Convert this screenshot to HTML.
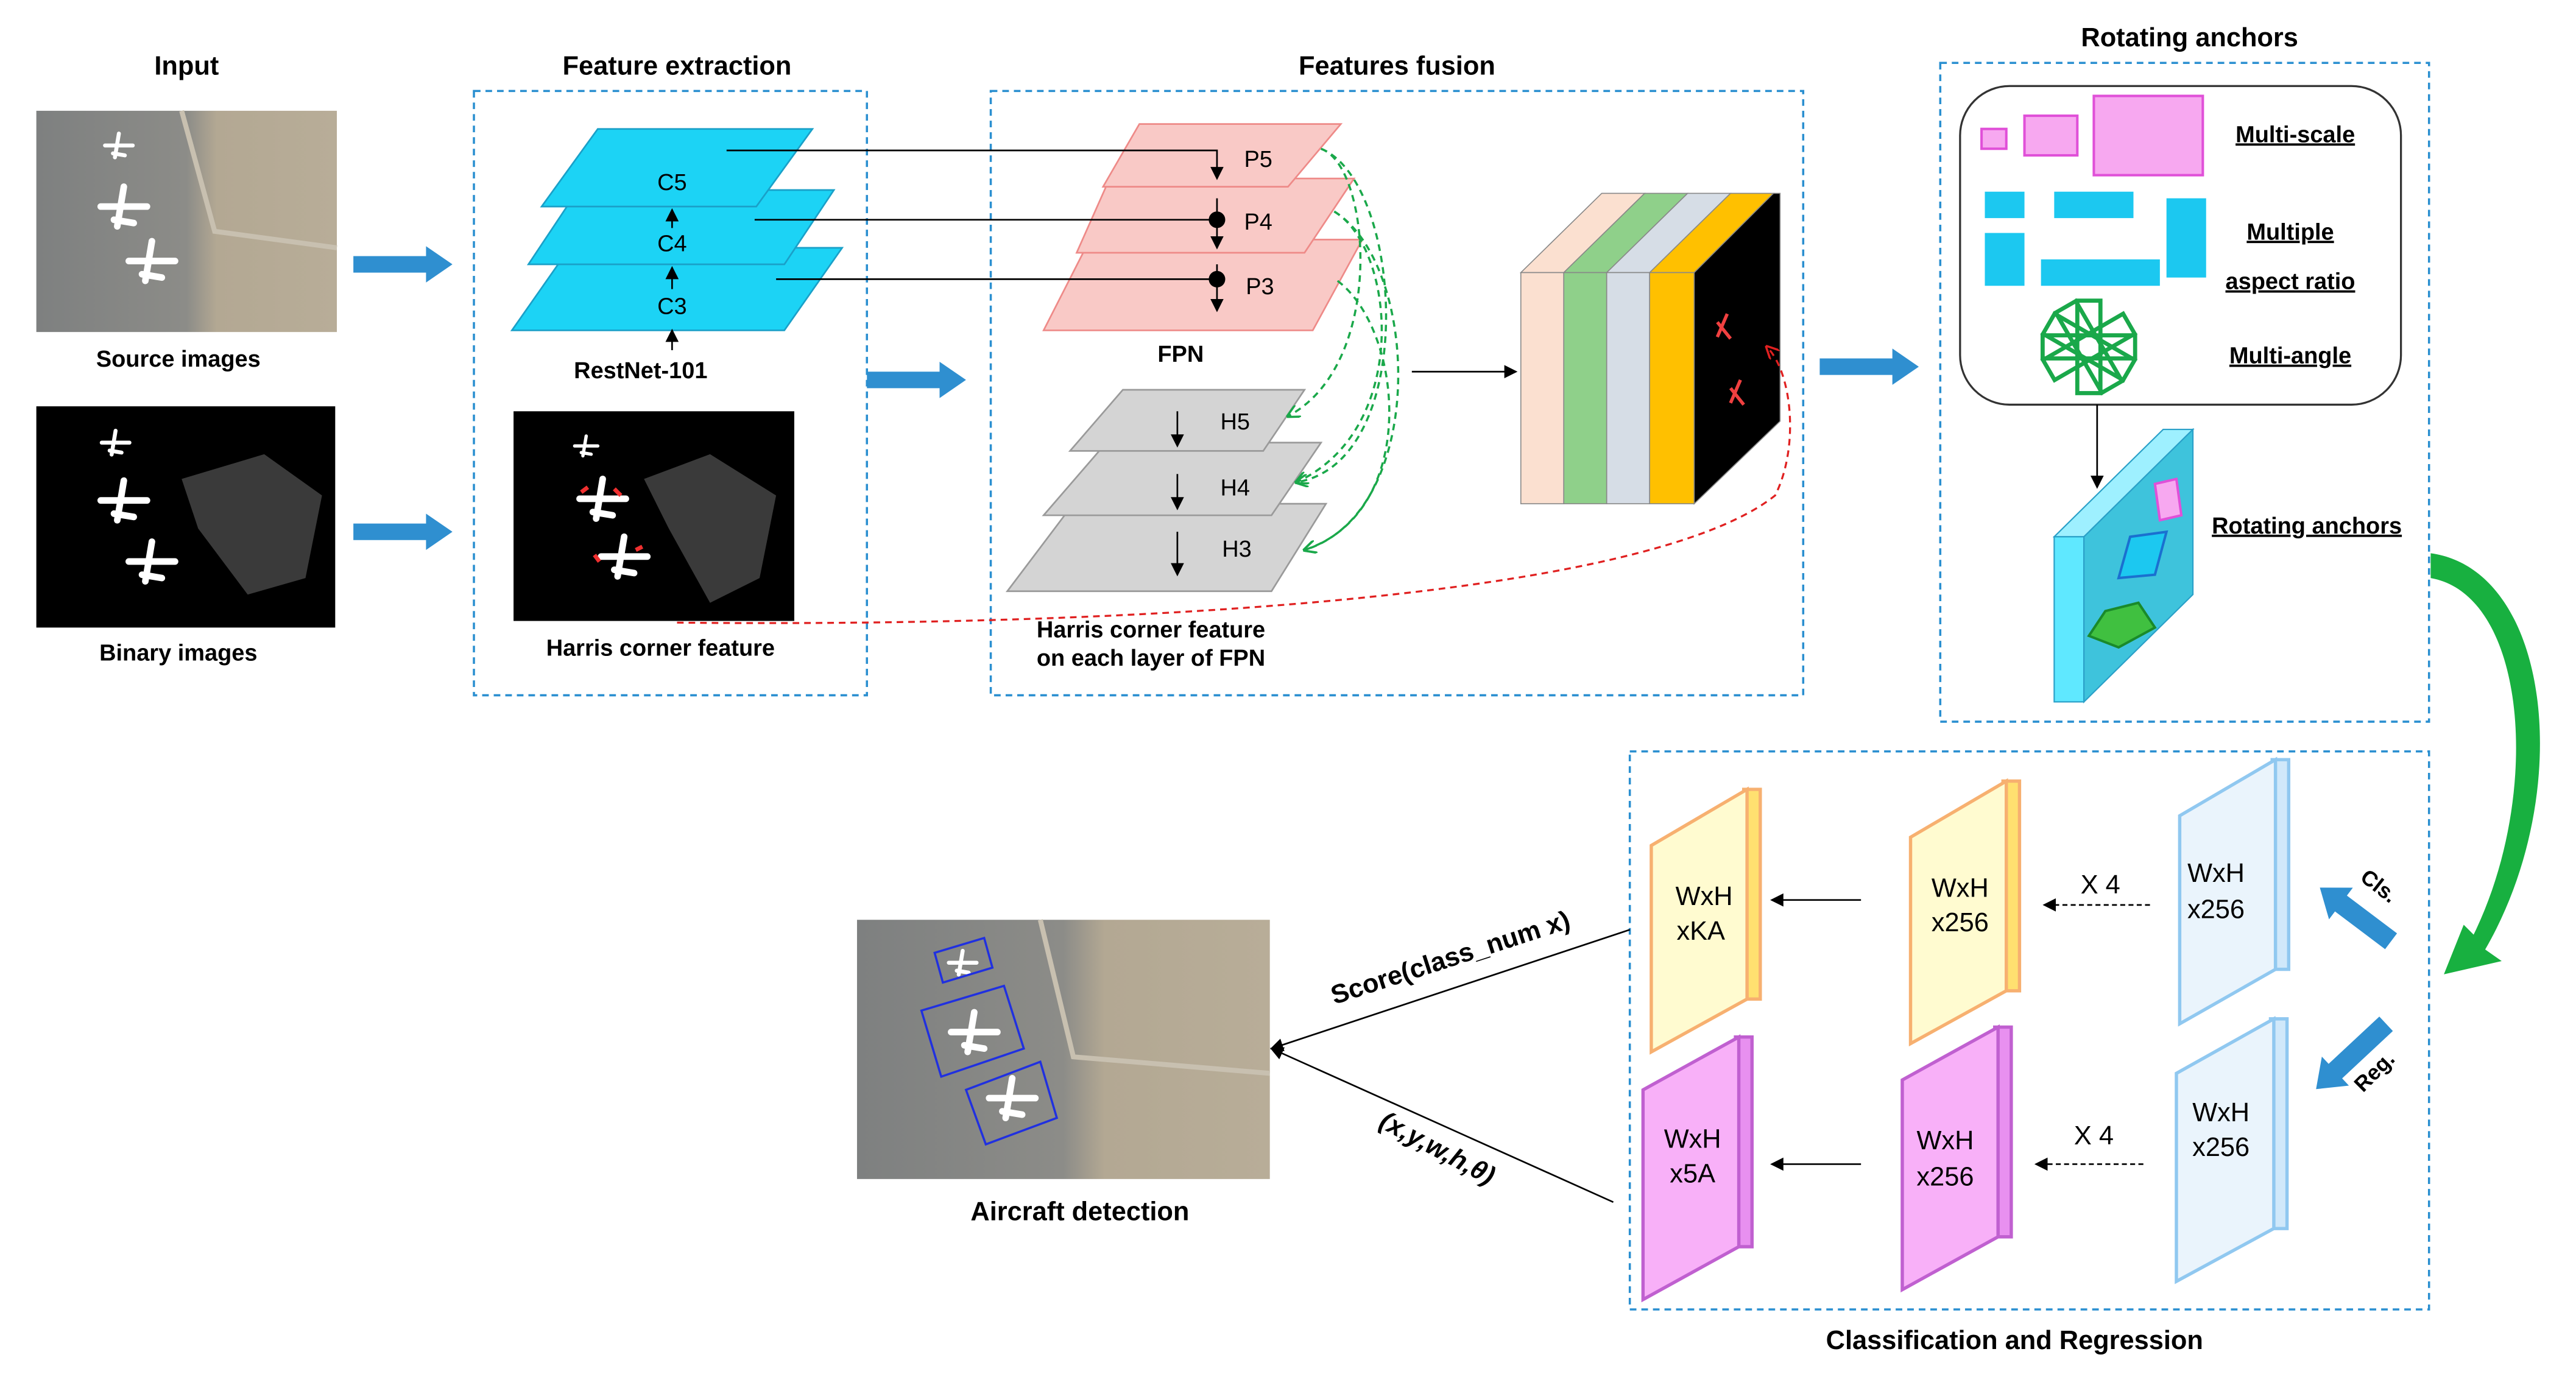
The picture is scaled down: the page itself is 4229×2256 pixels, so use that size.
<!DOCTYPE html>
<html><head><meta charset="utf-8"><style>html,body{margin:0;padding:0;background:#fff}svg{display:block}</style></head>
<body>
<svg width="4229" height="2256" viewBox="0 0 1560 832" xmlns="http://www.w3.org/2000/svg" font-family="Liberation Sans, Arial, sans-serif">
<defs>
<marker id="ah" markerWidth="8" markerHeight="8" refX="7" refY="4" orient="auto" markerUnits="userSpaceOnUse"><path d="M0,0 L8,4 L0,8 z" fill="#000"/></marker>
<marker id="ahg" markerWidth="8" markerHeight="8" refX="7" refY="4" orient="auto" markerUnits="userSpaceOnUse"><path d="M0,0 L8,4 L0,8" fill="none" stroke="#1aa84a" stroke-width="1.3"/></marker>
<marker id="ahr" markerWidth="8" markerHeight="8" refX="7" refY="4" orient="auto" markerUnits="userSpaceOnUse"><path d="M0,0 L8,4 L0,8" fill="none" stroke="#e02020" stroke-width="1.3"/></marker>
<linearGradient id="sat" x1="0" y1="0" x2="1" y2="0"><stop offset="0" stop-color="#7e8080"/><stop offset="0.5" stop-color="#8c8c88"/><stop offset="0.6" stop-color="#b3a893"/><stop offset="1" stop-color="#b8ad98"/></linearGradient>
<g id="plane"><path d="M-14,0 L14,0 M0,-12 L-4,12 M-6,8 L6,10" stroke="#fff" stroke-width="4" stroke-linecap="round"/></g>
<g id="blueArrow"><path d="M0,-5 L44,-5 L44,-11 L60,0 L44,11 L44,5 L0,5 z" fill="#2f8fd0"/></g>
</defs>

<g font-weight="bold" font-size="16" text-anchor="middle" fill="#000">
<text x="113" y="45">Input</text>
<text x="410" y="45">Feature extraction</text>
<text x="846" y="45">Features fusion</text>
<text x="1326" y="28">Rotating anchors</text>
<text x="1220" y="817">Classification and Regression</text>
</g>

<!-- Input images -->
<rect x="22" y="67" width="182" height="134" fill="url(#sat)"/>
<path d="M110,67 L130,140 L204,150" stroke="#c8c0b0" stroke-width="3" fill="none"/>
<use href="#plane" transform="translate(72,88) scale(0.6)"/>
<use href="#plane" transform="translate(75,125)"/>
<use href="#plane" transform="translate(92,158)"/>
<text x="108" y="222" font-size="14" font-weight="bold" text-anchor="middle">Source images</text>
<rect x="22" y="246" width="181" height="134" fill="#000"/>
<path d="M110,290 L160,275 L195,300 L185,350 L150,360 L120,320 z" fill="#3a3a3a"/>
<use href="#plane" transform="translate(70,268) scale(0.6)"/>
<use href="#plane" transform="translate(75,303)"/>
<use href="#plane" transform="translate(92,340)"/>
<text x="108" y="400" font-size="14" font-weight="bold" text-anchor="middle">Binary images</text>

<use href="#blueArrow" transform="translate(214,160)"/>
<use href="#blueArrow" transform="translate(214,322)"/>
<use href="#blueArrow" transform="translate(525,230)"/>
<use href="#blueArrow" transform="translate(1102,222)"/>

<!-- Feature extraction -->
<rect x="287" y="55" width="238" height="366" fill="none" stroke="#2a8fd0" stroke-width="1.3" stroke-dasharray="4,3"/>
<g fill="#1cd3f5" stroke="#1aa0c8" stroke-width="1">
<polygon points="345,150 510,150 475,200 310,200"/>
<polygon points="350,115 505,115 475,160 320,160"/>
<polygon points="362,78 492,78 458,125 328,125"/>
</g>
<g font-size="14" text-anchor="middle"><text x="407" y="115">C5</text><text x="407" y="152">C4</text><text x="407" y="190">C3</text></g>
<g stroke="#000" stroke-width="1" marker-end="url(#ah)">
<line x1="407" y1="138" x2="407" y2="127"/><line x1="407" y1="175" x2="407" y2="162"/><line x1="407" y1="212" x2="407" y2="200"/>
</g>
<text x="388" y="229" font-size="14" font-weight="bold" text-anchor="middle">RestNet-101</text>
<rect x="311" y="249" width="170" height="127" fill="#000"/>
<path d="M390,290 L430,275 L470,300 L460,350 L430,365 L405,320 z" fill="#3a3a3a"/>
<use href="#plane" transform="translate(355,270) scale(0.5)"/>
<use href="#plane" transform="translate(365,302)"/>
<use href="#plane" transform="translate(378,337)"/>
<path d="M352,298 l4,-3 M372,296 l4,4 M360,336 l3,4 M385,333 l4,-2" stroke="#f03030" stroke-width="2.5"/>
<text x="400" y="397" font-size="14" font-weight="bold" text-anchor="middle">Harris corner feature</text>

<!-- Features fusion -->
<rect x="600" y="55" width="492" height="366" fill="none" stroke="#2a8fd0" stroke-width="1.3" stroke-dasharray="4,3"/>
<g fill="#f9c9c6" stroke="#ee8a88" stroke-width="1">
<polygon points="660,145 825,145 795,200 632,200"/>
<polygon points="672,108 820,108 790,153 652,153"/>
<polygon points="690,75 812,75 780,113 668,113"/>
</g>
<g font-size="14" text-anchor="middle"><text x="762" y="101">P5</text><text x="762" y="139">P4</text><text x="763" y="178">P3</text></g>
<g stroke="#000" stroke-width="1">
<polyline points="440,91 737,91 737,108" fill="none" marker-end="url(#ah)"/>
<line x1="457" y1="133" x2="737" y2="133"/>
<line x1="470" y1="169" x2="737" y2="169"/>
<line x1="737" y1="120" x2="737" y2="150" marker-end="url(#ah)"/>
<line x1="737" y1="160" x2="737" y2="188" marker-end="url(#ah)"/>
</g>
<circle cx="737" cy="133" r="5"/><circle cx="737" cy="169" r="5"/>
<text x="715" y="219" font-size="14" font-weight="bold" text-anchor="middle">FPN</text>
<g fill="#d4d4d4" stroke="#9a9a9a" stroke-width="1">
<polygon points="650,305 803,305 770,358 610,358"/>
<polygon points="670,268 800,268 770,312 632,312"/>
<polygon points="680,236 790,236 765,273 648,273"/>
</g>
<g font-size="14" text-anchor="middle"><text x="748" y="260">H5</text><text x="748" y="300">H4</text><text x="749" y="337">H3</text></g>
<g stroke="#000" stroke-width="1" marker-end="url(#ah)">
<line x1="713" y1="249" x2="713" y2="270"/><line x1="713" y1="287" x2="713" y2="308"/><line x1="713" y1="322" x2="713" y2="348"/>
</g>
<g fill="none" stroke="#1aa84a" stroke-width="1.3" stroke-dasharray="4,3" marker-end="url(#ahg)">
<path d="M800,90 C830,100 840,220 780,252"/>
<path d="M808,128 C845,150 855,260 785,292"/>
<path d="M810,170 C850,200 860,310 790,333"/>
<path d="M800,90 C850,110 860,280 785,292"/>
<path d="M808,128 C860,160 865,310 790,333"/>
</g>
<text x="697" y="386" font-size="14" font-weight="bold" text-anchor="middle">Harris corner feature</text>
<text x="697" y="403" font-size="14" font-weight="bold" text-anchor="middle">on each layer of FPN</text>
<line x1="855" y1="225" x2="918" y2="225" stroke="#000" stroke-width="1" marker-end="url(#ah)"/>

<!-- stacked slabs -->
<g stroke="#888" stroke-width="0.6">
<polygon points="921,165 970,117 996,117 947,165" fill="#fbe0d0"/><rect x="921" y="165" width="26" height="140" fill="#fbe0d0"/>
<polygon points="947,165 996,117 1022,117 973,165" fill="#8fd08a"/><rect x="947" y="165" width="26" height="140" fill="#8fd08a"/>
<polygon points="973,165 1022,117 1048,117 999,165" fill="#d6dde6"/><rect x="973" y="165" width="26" height="140" fill="#d6dde6"/>
<polygon points="999,165 1048,117 1074,117 1026,165" fill="#ffc000"/><rect x="999" y="165" width="27" height="140" fill="#ffc000"/>
<polygon points="1026,165 1074,117 1078,117 1078,255 1026,305" fill="#000"/>
</g>
<path d="M1040,195 l8,10 M1046,190 l-6,14 M1048,235 l8,10 M1054,230 l-6,14" stroke="#f04040" stroke-width="2"/>
<path d="M410,377 C700,380 1000,360 1075,300 C1090,270 1085,225 1070,210" fill="none" stroke="#e02020" stroke-width="1.2" stroke-dasharray="4,3" marker-end="url(#ahr)"/>

<!-- Rotating anchors -->
<rect x="1175" y="38" width="296" height="399" fill="none" stroke="#2a8fd0" stroke-width="1.3" stroke-dasharray="4,3"/>
<rect x="1187" y="52" width="267" height="193" rx="30" fill="none" stroke="#333" stroke-width="1.2"/>
<g fill="#f7a8f0" stroke="#e050d8" stroke-width="1.5">
<rect x="1200" y="78" width="15" height="12"/><rect x="1226" y="70" width="32" height="24"/><rect x="1268" y="58" width="66" height="48"/>
</g>
<g fill="#1cc8f0">
<rect x="1202" y="116" width="24" height="16"/><rect x="1244" y="116" width="48" height="16"/><rect x="1312" y="120" width="24" height="48"/><rect x="1202" y="141" width="24" height="32"/><rect x="1236" y="157" width="72" height="16"/>
</g>
<g stroke="#1aa84a" stroke-width="2.5" fill="none" transform="translate(1265,210)">
<rect x="-28" y="-7" width="56" height="14"/>
<rect x="-28" y="-7" width="56" height="14" transform="rotate(30)"/>
<rect x="-28" y="-7" width="56" height="14" transform="rotate(60)"/>
<rect x="-28" y="-7" width="56" height="14" transform="rotate(-30)"/>
<rect x="-28" y="-7" width="56" height="14" transform="rotate(90)"/>
</g>
<g font-size="14" font-weight="bold" text-anchor="middle" text-decoration="underline">
<text x="1390" y="86">Multi-scale</text><text x="1387" y="145">Multiple</text><text x="1387" y="175">aspect ratio</text><text x="1387" y="220">Multi-angle</text><text x="1397" y="323">Rotating anchors</text>
</g>
<line x1="1270" y1="245" x2="1270" y2="295" stroke="#000" stroke-width="1" marker-end="url(#ah)"/>
<polygon points="1244,325 1310,260 1328,260 1262,325" fill="#9ef0ff" stroke="#2aa0c8" stroke-width="0.8"/>
<rect x="1244" y="325" width="18" height="100" fill="#5fe8ff" stroke="#2aa0c8" stroke-width="0.8"/>
<polygon points="1262,325 1328,260 1328,360 1262,425" fill="#3ec3dc" stroke="#2aa0c8" stroke-width="0.8"/>
<polygon points="1305,293 1318,290 1321,312 1308,315" fill="#f7a8f0" stroke="#e050d8" stroke-width="1.5"/>
<polygon points="1290,325 1312,322 1305,348 1283,350" fill="#1cc8f0" stroke="#1a70d0" stroke-width="1.5"/>
<polygon points="1275,370 1295,365 1305,380 1283,392 1265,385" fill="#40c040" stroke="#1a8a2a" stroke-width="1.5"/>

<!-- big green arrow -->
<path d="M1472,335 C1545,345 1560,480 1505,575 L1515,582 L1480,590 L1492,560 L1498,566 C1540,480 1530,360 1472,350 z" fill="#18b040"/>

<!-- Classification & Regression -->
<rect x="987" y="455" width="484" height="338" fill="none" stroke="#2a8fd0" stroke-width="1.3" stroke-dasharray="4,3"/>
<g stroke-width="2">
<polygon points="1056,478 1066,478 1066,605 1058,605" fill="#ffe070" stroke="#f7b070"/>
<polygon points="1000,512 1058,478 1058,605 1000,637" fill="#fffbd0" stroke="#f7b070"/>
<polygon points="1213,473 1223,473 1223,600 1215,600" fill="#ffe070" stroke="#f7b070"/>
<polygon points="1157,507 1215,473 1215,600 1157,632" fill="#fffbd0" stroke="#f7b070"/>
<polygon points="1376,460 1386,460 1386,587 1378,587" fill="#d0e8fa" stroke="#90c8f0"/>
<polygon points="1320,494 1378,460 1378,587 1320,620" fill="#eaf4fc" stroke="#90c8f0"/>
<polygon points="1051,628 1061,628 1061,755 1053,755" fill="#e890f0" stroke="#c060d0"/>
<polygon points="995,660 1053,628 1053,755 995,787" fill="#f8b0f8" stroke="#c060d0"/>
<polygon points="1208,622 1218,622 1218,749 1210,749" fill="#e890f0" stroke="#c060d0"/>
<polygon points="1152,654 1210,622 1210,749 1152,781" fill="#f8b0f8" stroke="#c060d0"/>
<polygon points="1375,617 1385,617 1385,744 1377,744" fill="#d0e8fa" stroke="#90c8f0"/>
<polygon points="1318,650 1377,617 1377,744 1318,776" fill="#eaf4fc" stroke="#90c8f0"/>
</g>
<g font-size="16" text-anchor="middle">
<text x="1032" y="548">WxH</text><text x="1030" y="569">xKA</text>
<text x="1187" y="543">WxH</text><text x="1187" y="564">x256</text>
<text x="1342" y="534">WxH</text><text x="1342" y="556">x256</text>
<text x="1025" y="695">WxH</text><text x="1025" y="716">x5A</text>
<text x="1178" y="696">WxH</text><text x="1178" y="718">x256</text>
<text x="1345" y="679">WxH</text><text x="1345" y="700">x256</text>
<text x="1272" y="541">X 4</text><text x="1268" y="693">X 4</text>
</g>
<g stroke="#000" stroke-width="1" marker-end="url(#ah)">
<line x1="1127" y1="545" x2="1073" y2="545"/>
<line x1="1302" y1="548" x2="1238" y2="548" stroke-dasharray="3,2"/>
<line x1="1127" y1="705" x2="1073" y2="705"/>
<line x1="1298" y1="705" x2="1233" y2="705" stroke-dasharray="3,2"/>
<line x1="987" y1="563" x2="770" y2="635"/>
<line x1="977" y1="728" x2="770" y2="635"/>
</g>
<g transform="translate(1448,570) rotate(-143)"><path d="M0,-6 L38,-6 L38,-12 L54,0 L38,12 L38,6 L0,6 z" fill="#2f8fd0"/></g>
<g transform="translate(1445,620) rotate(137)"><path d="M0,-6 L42,-6 L42,-12 L58,0 L42,12 L42,6 L0,6 z" fill="#2f8fd0"/></g>
<text x="1438" y="540" font-size="13" font-weight="bold" text-anchor="middle" transform="rotate(38 1438 540)">Cls.</text>
<text x="1441" y="652" font-size="13" font-weight="bold" text-anchor="middle" transform="rotate(-45 1441 652)">Reg.</text>
<text x="880" y="585" font-size="16" font-weight="bold" text-anchor="middle" transform="rotate(-18 880 585)">Score(class_num x)</text>
<text x="868" y="700" font-size="16" font-weight="bold" font-style="italic" text-anchor="middle" transform="rotate(28 868 700)">(x,y,w,h,θ)</text>

<!-- Aircraft detection image -->
<rect x="519" y="557" width="250" height="157" fill="url(#sat)"/>
<path d="M630,557 L650,640 L769,650" stroke="#c8c0b0" stroke-width="3" fill="none"/>
<use href="#plane" transform="translate(583,583) scale(0.6)"/>
<use href="#plane" transform="translate(590,625)"/>
<use href="#plane" transform="translate(613,665)"/>
<g fill="none" stroke="#2030e0" stroke-width="1.3">
<polygon points="566,577 596,568 601,586 571,595"/>
<polygon points="558,612 608,597 620,635 570,652"/>
<polygon points="585,660 630,643 640,677 597,693"/>
</g>
<text x="654" y="739" font-size="16" font-weight="bold" text-anchor="middle">Aircraft detection</text>
</svg>
</body></html>
